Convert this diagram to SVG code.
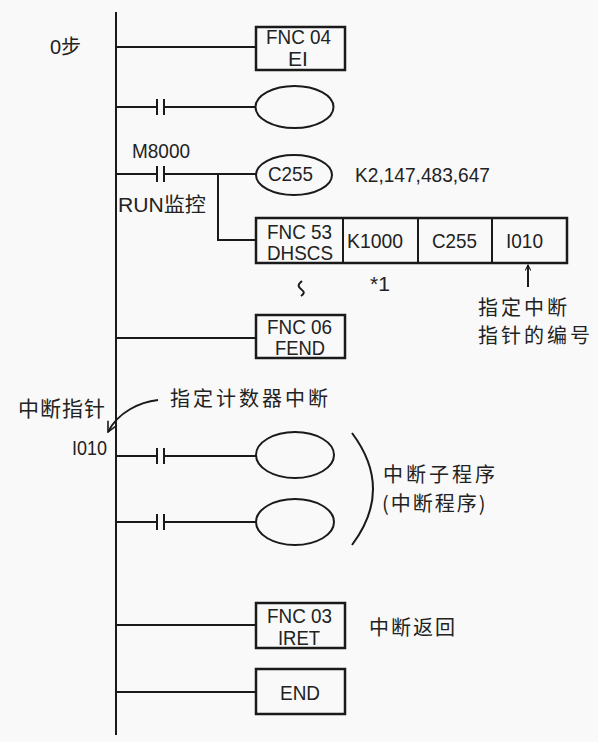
<svg xmlns="http://www.w3.org/2000/svg" width="598" height="742" viewBox="0 0 598 742">
<defs>
<style>
.t{font-family:"Liberation Sans","Noto Sans CJK SC",Arial,sans-serif;font-size:20px;fill:#222}
.b{font-family:"Liberation Sans",Arial,sans-serif;font-size:21px;fill:#222}
.c{text-anchor:middle}
.z{font-family:"Noto Sans CJK SC","Liberation Sans",sans-serif;font-size:20px;fill:#222}
.ln{stroke:#1a1a1a;stroke-width:2;fill:none}
.bx{stroke:#1a1a1a;stroke-width:2.5;fill:none}
</style>
<marker id="ah" viewBox="0 0 10 10" refX="9" refY="5" markerWidth="7" markerHeight="7" orient="auto-start-reverse" markerUnits="userSpaceOnUse">
<path d="M1,1 L9,5 L1,9" fill="none" stroke="#1a1a1a" stroke-width="1.5"/>
</marker>
<marker id="ah2" viewBox="0 0 12 12" refX="11" refY="6" markerWidth="12" markerHeight="12" orient="auto" markerUnits="userSpaceOnUse">
<path d="M1,1 L11,6 L1,11" fill="none" stroke="#1a1a1a" stroke-width="1.6"/>
</marker>
</defs>
<rect width="598" height="742" fill="#f9f9f9"/>
<g id="connectors">
<line class="ln" x1="116" y1="12" x2="116" y2="735" stroke-width="3"/>
<line class="ln" x1="116" y1="47" x2="256" y2="47"/>
<path class="ln" d="M116,107 H157 M164,107 H256 M157,99 V115 M164,99 V115"/>
<path class="ln" d="M116,174 H157 M164,174 H256 M157,166 V182 M164,166 V182"/>
<path class="ln" d="M218,174 V240 H256"/>
<line class="ln" x1="116" y1="338" x2="256" y2="338"/>
<path class="ln" d="M116,456 H157 M164,456 H256 M157,448 V464 M164,448 V464"/>
<path class="ln" d="M116,522 H157 M164,522 H256 M157,514 V530 M164,514 V530"/>
<line class="ln" x1="116" y1="625" x2="256" y2="625"/>
<line class="ln" x1="116" y1="692" x2="256" y2="692"/>
<line class="ln" x1="528" y1="287" x2="528" y2="265" stroke-width="1.8" marker-end="url(#ah)"/>
<path class="ln" d="M158,400 C140,402 118,412 108,432" stroke-width="1.8" marker-end="url(#ah2)"/>
<path class="ln" d="M352,433 Q394,489 352,545" stroke-width="1.8"/>
<path class="ln" d="M302,281 C297,285 298,287 302,290 C305,292 304,294 301,296" stroke-width="1.3"/>
</g>
<g id="label-step0"><text class="t" x="50" y="54">0步</text></g>
<g id="ei"><rect class="bx" x="256" y="27" width="89" height="43"/><text class="b" x="266" y="44" textLength="65" lengthAdjust="spacingAndGlyphs">FNC 04</text><text class="b c" x="298" y="66">EI</text></g>
<g id="coil1"><ellipse class="ln" cx="294.500" cy="107" rx="39" ry="21"/></g>
<g id="m8000"><text class="t" x="132" y="158" textLength="58" lengthAdjust="spacingAndGlyphs">M8000</text><text class="t" x="118" y="212" textLength="88" lengthAdjust="spacingAndGlyphs">RUN监控</text></g>
<g id="c255coil"><ellipse class="ln" cx="294" cy="175" rx="38" ry="20"/><text class="b" x="268" y="181" textLength="45" lengthAdjust="spacingAndGlyphs">C255</text><text class="b" x="355" y="182" textLength="135" lengthAdjust="spacingAndGlyphs">K2,147,483,647</text></g>
<g id="dhscs"><rect class="bx" x="256" y="218" width="311" height="45"/>
<line class="ln" x1="343" y1="218" x2="343" y2="263"/><line class="ln" x1="418" y1="218" x2="418" y2="263"/><line class="ln" x1="492" y1="218" x2="492" y2="263"/>
<text class="b" x="267" y="239" textLength="65" lengthAdjust="spacingAndGlyphs">FNC 53</text><text class="b" x="267" y="260" textLength="66" lengthAdjust="spacingAndGlyphs">DHSCS</text>
<text class="b" x="347" y="248" textLength="56" lengthAdjust="spacingAndGlyphs">K1000</text><text class="b" x="432" y="248" textLength="45" lengthAdjust="spacingAndGlyphs">C255</text><text class="b" x="506" y="248" textLength="37" lengthAdjust="spacingAndGlyphs">I010</text></g>
<g id="note1"><text class="b c" x="380" y="291">*1</text></g>
<g id="note-ptr"><text class="z" x="478" y="315" letter-spacing="3">指定中断</text><text class="z" x="478" y="343" letter-spacing="3">指针的编号</text></g>
<g id="fend"><rect class="bx" x="256" y="315" width="89" height="43"/><text class="b" x="267" y="334" textLength="65" lengthAdjust="spacingAndGlyphs">FNC 06</text><text class="b" x="275" y="355" textLength="50" lengthAdjust="spacingAndGlyphs">FEND</text></g>
<g id="ptr-label"><text class="z" x="18" y="416" style="font-size:21px" letter-spacing="1">中断指针</text><text class="z" x="170" y="406" letter-spacing="3">指定计数器中断</text><text class="b" x="72" y="455" textLength="35" lengthAdjust="spacingAndGlyphs">I010</text></g>
<g id="coil3"><ellipse class="ln" cx="295" cy="455" rx="39" ry="23"/></g>
<g id="coil4"><ellipse class="ln" cx="295" cy="522" rx="39" ry="23"/></g>
<g id="sub-label"><text class="z" x="383" y="482" letter-spacing="3">中断子程序</text><text class="z" x="382" y="511" letter-spacing="2">(中断程序)</text></g>
<g id="iret"><rect class="bx" x="256" y="603" width="89" height="45"/><text class="b" x="267" y="623" textLength="65" lengthAdjust="spacingAndGlyphs">FNC 03</text><text class="b" x="278" y="645" textLength="42" lengthAdjust="spacingAndGlyphs">IRET</text><text class="z" x="369" y="635" letter-spacing="2">中断返回</text></g>
<g id="end"><rect class="bx" x="256" y="669" width="89" height="45"/><text class="b" x="280" y="700" textLength="40" lengthAdjust="spacingAndGlyphs">END</text></g>
</svg>
